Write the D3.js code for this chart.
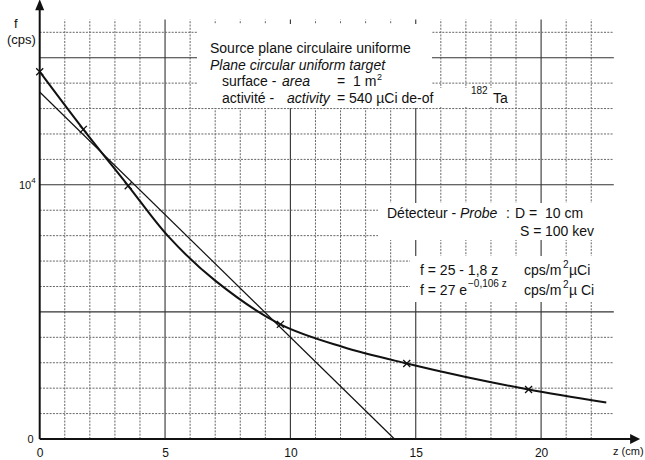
<!DOCTYPE html>
<html>
<head>
<meta charset="utf-8">
<script src="https://cdn.jsdelivr.net/npm/d3@7"></script>
<style>
  body { margin: 0; background: #fff; }
  svg { display: block; font-family: "Liberation Sans", Arial, sans-serif; }
</style>
</head>
<body>
<svg id="graph" width="645" height="460"></svg>
<script>
// measured counting rate (thick curve)
const zCurve = [0, 1.74, 3.53, 5.13, 7.0, 9.6, 12.1, 14.64, 17.0, 19.5, 22.6];
const fCurve = [14450, 12180, 9960, 7970, 6230, 4510, 3620, 2970, 2440, 1950, 1440];

// measured points drawn as crosses
const zMarks = [0, 1.74, 3.53, 9.6, 14.64, 19.5];
const fMarks = [14450, 12180, 9960, 4510, 2970, 1950];

// straight line f = 25 - 1,8 z
const zLine = [0, 14.15];
const fLine = [13650, 0];

// axis ticks
const xTicks = [0, 5, 10, 15, 20];
const xTickLabels = ["0", "5", "10", "15", "20"];
const yTicks = [0, 10000];
const yTickLabels = ["0", "10"];

const svg = d3.select('#graph');

// scales (graph paper: 1 square = 1 cm / 1000 cps)
const x = d3.scaleLinear().domain([0, 23]).range([39.7, 39.7 + 23 * 25.07]);
const y = d3.scaleLinear().domain([0, 16000]).range([439, 32.3]);

//grid
const grid = svg.append('g');
d3.range(1, 23).forEach(v => {
  grid.append('line')
    .attr('x1', x(v)).attr('x2', x(v))
    .attr('y1', y(0)).attr('y2', y(16500))
    .attr('stroke', v % 5 == 0 ? '#333' : '#666')
    .attr('stroke-width', v % 5 == 0 ? 1.1 : 1)
    .attr('stroke-dasharray', v % 5 == 0 ? null : '2,1.3');
});
d3.range(1000, 16001, 1000).forEach(v => {
  grid.append('line')
    .attr('x1', x(0)).attr('x2', x(22.9))
    .attr('y1', y(v)).attr('y2', y(v))
    .attr('stroke', v % 5000 == 0 ? '#333' : '#666')
    .attr('stroke-width', v % 5000 == 0 ? 1.1 : 1)
    .attr('stroke-dasharray', v % 5000 == 0 ? null : '2,1.3');
});

// white labels pasted over the paper
const masks = [
  [197, 24, 235, 84],
  [432, 88, 80, 18],
  [378, 203, 242, 37],
  [410, 256, 210, 46]
];
masks.forEach(m => {
  svg.append('rect').attr('x', m[0]).attr('y', m[1]).attr('width', m[2]).attr('height', m[3]).attr('fill', '#fff');
});

// straight line
const line = d3.line().x(d => x(d[0])).y(d => y(d[1]));
svg.append('path')
  .attr('d', line(d3.zip(zLine, fLine)))
  .attr('fill', 'none').attr('stroke', '#111').attr('stroke-width', 1.2);

// thick curve
const curve = d3.line().x(d => x(d[0])).y(d => y(d[1])).curve(d3.curveCatmullRom.alpha(0.5));
svg.append('path')
  .attr('d', curve(d3.zip(zCurve, fCurve)))
  .attr('fill', 'none').attr('stroke', '#111').attr('stroke-width', 2);

// crosses
svg.selectAll('.mark')
  .data(d3.zip(zMarks, fMarks))
  .join('path')
  .attr('class', 'mark')
  .attr('transform', d => `translate(${x(d[0])},${y(d[1])})`)
  .attr('d', 'M-3.5,-3.5L3.5,3.5M-3.5,3.5L3.5,-3.5')
  .attr('stroke', '#111').attr('stroke-width', 1.3);

// x axis
const xAxis = svg.append('g')
  .attr('transform', `translate(0,${y(0)})`)
  .call(d3.axisBottom(x).tickValues(xTicks).tickSize(0).tickPadding(9).tickFormat((d, i) => xTickLabels[i]));
xAxis.select('.domain').remove();
xAxis.selectAll('text').attr('font-size', 12).attr('font-family', '"Liberation Sans", Arial, sans-serif').attr('fill', '#111');

// y axis
const yAxis = svg.append('g')
  .attr('transform', `translate(${x(0)},0)`)
  .call(d3.axisLeft(y).tickValues(yTicks).tickSize(0).tickPadding(6).tickFormat((d, i) => yTickLabels[i]));
yAxis.select('.domain').remove();
yAxis.selectAll('text').attr('font-size', 11).attr('font-family', '"Liberation Sans", Arial, sans-serif').attr('fill', '#111');
yAxis.selectAll('text').filter(d => d == 10000)
  .attr('dx', 2)
  .append('tspan').attr('dy', -6).attr('font-size', 8).text('4');

// axis lines with arrows
svg.append('line').attr('x1', x(0)).attr('x2', x(23.6)).attr('y1', y(0)).attr('y2', y(0))
  .attr('stroke', '#111').attr('stroke-width', 2);
svg.append('line').attr('x1', x(0)).attr('x2', x(0)).attr('y1', y(0)).attr('y2', y(16900))
  .attr('stroke', '#111').attr('stroke-width', 2);
svg.append('path')
  .attr('d', `M${x(23.95)},${y(0)}L${x(23.95) - 10},${y(0) - 5}L${x(23.95) - 10},${y(0) + 5}Z`)
  .attr('fill', '#111');
svg.append('path')
  .attr('d', `M${x(0)},${y(17300)}L${x(0) - 4.5},${y(17300) + 11}L${x(0) + 4.5},${y(17300) + 11}Z`)
  .attr('fill', '#111');

// axis titles
function txt(px, py, s, size, italic) {
  return svg.append('text').attr('x', px).attr('y', py)
    .attr('font-size', size || 14)
    .attr('font-style', italic ? 'italic' : 'normal')
    .attr('fill', '#111')
    .text(s);
}
txt(14, 28, 'f', 13);
txt(7, 44, '(cps)', 13);
txt(613, 455, 'z (cm)', 11);

// source block
txt(210, 53, 'Source plane circulaire uniforme');
txt(210, 70, 'Plane circular uniform target', 14, true);
txt(222, 86, 'surface -');
txt(282, 86, 'area', 14, true);
txt(337, 86, '=');
txt(353, 86, '1 m');
txt(377, 80, '2', 9);
txt(222, 103, 'activité -');
txt(287, 103, 'activity', 14, true);
txt(337, 103, '=');
txt(349, 103, '540 µCi de-of');
txt(471, 94, '182', 10);
txt(493, 103, 'Ta');

// probe block
txt(387, 218, 'Détecteur -');
txt(460, 218, 'Probe', 14, true);
txt(506, 218, ':');
txt(515, 218, 'D =');
txt(545, 218, '10 cm');
txt(520, 236, 'S =');
txt(545, 236, '100 kev');

// formulas
txt(420, 275, 'f = 25 - 1,8 z');
txt(524, 275, 'cps/m');
txt(563, 268, '2', 10);
txt(569, 275, 'µCi');
txt(420, 295, 'f = 27 e');
txt(468, 287, '−0,106 z', 10);
txt(524, 295, 'cps/m');
txt(563, 288, '2', 10);
txt(569, 295, 'µ Ci');
</script>
</body>
</html>
